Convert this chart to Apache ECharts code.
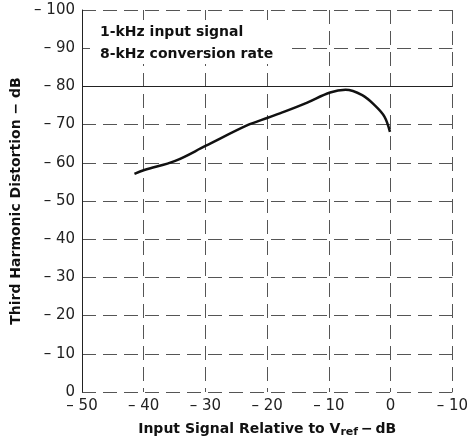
<!DOCTYPE html>
<html>
<head>
<meta charset="utf-8">
<script src="https://cdn.jsdelivr.net/npm/echarts@6/dist/echarts.min.js"></script>
<style>html,body{margin:0;padding:0;background:#fff}#c{width:471px;height:446px}</style>
</head>
<body>
<div id="c"></div>
<script>
// Data
var inputSignal = [-41.5, -39.9, -34.9, -30.0, -23.1, -19.9, -17.2, -13.6, -9.8, -7.3, -4.6, -2.6, -1.0, -0.1];
var distortion  = [-57.1, -58.1, -60.5, -64.4, -69.9, -71.8, -73.4, -75.7, -78.4, -79.1, -77.7, -75.1, -72.1, -68.1];
var noteLines = ['1-kHz input signal', '8-kHz conversion rate'];
var xTitle = 'Input Signal Relative to V';
var yTitle = 'Third Harmonic Distortion \u2212 dB';

var points = inputSignal.map(function (x, i) { return [x, distortion[i]]; });
var FONT = '"DejaVu Sans", Arial, sans-serif';
function fmt(v) { return v === 0 ? '0' : '\u2013 ' + Math.abs(v); }

var chart = echarts.init(document.getElementById('c'), null, { renderer: 'canvas' });
var splitStyle = { color: '#555', width: 1, type: [14, 7] };
chart.setOption({
  animation: false,
  backgroundColor: '#fff',
  grid: { left: 82, top: 10, right: 8, bottom: 54, containLabel: false },
  xAxis: {
    type: 'value', min: -50, max: 10, interval: 10,
    axisLine: { show: false },
    axisTick: { show: false },
    splitLine: { show: true, lineStyle: splitStyle },
    axisLabel: { formatter: fmt, color: '#222', fontFamily: FONT, fontSize: 15, margin: 7 },
    name: xTitle + '{sub|ref}\u2009\u2212\u2009dB',
    nameLocation: 'middle', nameGap: 29,
    nameTextStyle: {
      color: '#111', fontFamily: FONT, fontSize: 14, fontWeight: 'bold',
      rich: { sub: { fontFamily: FONT, fontSize: 11, fontWeight: 'bold', color: '#111', verticalAlign: 'bottom', padding: [6, 0, 0, 0] } }
    }
  },
  yAxis: {
    type: 'value', min: -100, max: 0, interval: 10, inverse: true,
    axisLine: { show: true, onZero: false, lineStyle: { color: '#222', width: 1 } },
    axisTick: { show: false },
    splitLine: { show: true, lineStyle: splitStyle },
    axisLabel: { formatter: fmt, color: '#222', fontFamily: FONT, fontSize: 15, margin: 7 },
    name: yTitle,
    nameLocation: 'middle', nameGap: 59,
    nameTextStyle: { color: '#111', fontFamily: FONT, fontSize: 14, fontWeight: 'bold' }
  },
  graphic: [
    { type: 'rect', left: 90, top: 20, z: 1, shape: { width: 200, height: 44 }, style: { fill: '#fff' } },
    { type: 'text', left: 100, top: 25, z: 3, style: { text: noteLines[0], font: 'bold 14px ' + FONT, fill: '#111' } },
    { type: 'text', left: 100, top: 47, z: 3, style: { text: noteLines[1], font: 'bold 14px ' + FONT, fill: '#111' } }
  ],
  series: [
    {
      type: 'line', data: points, smooth: 0.35, showSymbol: false, z: 5,
      lineStyle: { color: '#111', width: 2.5 },
      markLine: {
        silent: true, symbol: 'none', label: { show: false },
        lineStyle: { color: '#222', width: 1, type: 'solid' },
        data: [{ yAxis: -80 }]
      }
    }
  ]
});
</script>
</body>
</html>
